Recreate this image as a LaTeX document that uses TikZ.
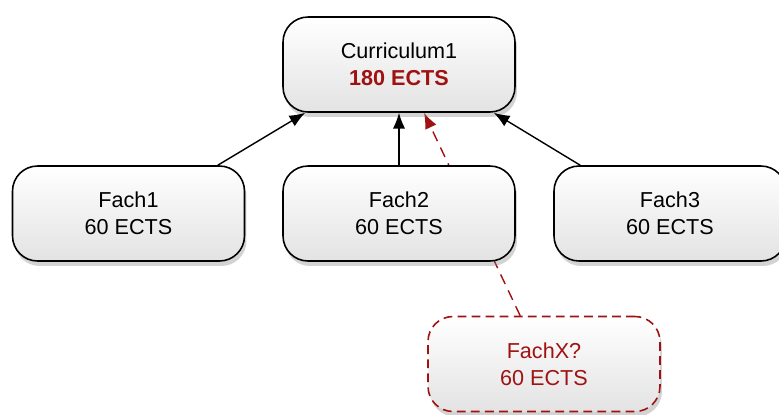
\documentclass[tikz,border=0pt]{standalone}
\usepackage{fontspec}
\setmainfont{Liberation Sans}
\usepackage{xcolor}
\usetikzlibrary{positioning,arrows.meta,shadows,backgrounds}
\definecolor{ectsred}{RGB}{160,18,18}

\begin{document}
\begin{tikzpicture}[x=0.02cm,y=-0.02cm,
  fachbox/.style={draw, line width=0.9pt, rounded corners=0.5cm,
    minimum width=4.64cm, minimum height=1.9cm, inner sep=0pt,
    top color=white, bottom color=gray!22, align=center,
    font=\fontsize{12.3}{15.3}\selectfont,
    drop shadow={shadow xshift=0.04cm, shadow yshift=-0.1cm, opacity=0.35}},
  newbox/.style={fachbox, draw=ectsred, dashed, dash pattern=on 5pt off 3pt, text=ectsred},
  link/.style={line width=0.8pt, -{Latex[length=9pt,width=7pt]}}]
  
  \useasboundingbox (0,0) rectangle (779,414);
  
  \node[fachbox] (curr) at (399,64.5) {Curriculum1\\\textcolor{ectsred}{\bfseries 180 ECTS}};
  \node[fachbox] (fach1) at (128.5,213.5) {Fach1\\60 ECTS};
  \node[fachbox] (fach2) at (399,213.5) {Fach2\\60 ECTS};
  \node[fachbox] (fach3) at (670,213.5) {Fach3\\60 ECTS};
  \node[newbox] (fachx) at (544,364) {FachX?\\60 ECTS};
  
  % the new one runs behind Fach2
  \begin{pgfonlayer}{background}
    \draw[link, ectsred, dashed, dash pattern=on 6pt off 4pt]
      ([xshift=1.86cm]fachx.north west) -- ([xshift=0.5cm]curr.south);
  \end{pgfonlayer}
  
  \draw[link] ([xshift=-0.55cm]fach1.north east) -- ([xshift=0.46cm]curr.south west);
  \draw[link] (fach2.north) -- (curr.south);
  \draw[link] ([xshift=0.54cm]fach3.north west) -- ([xshift=-0.44cm]curr.south east);
\end{tikzpicture}
\end{document}
